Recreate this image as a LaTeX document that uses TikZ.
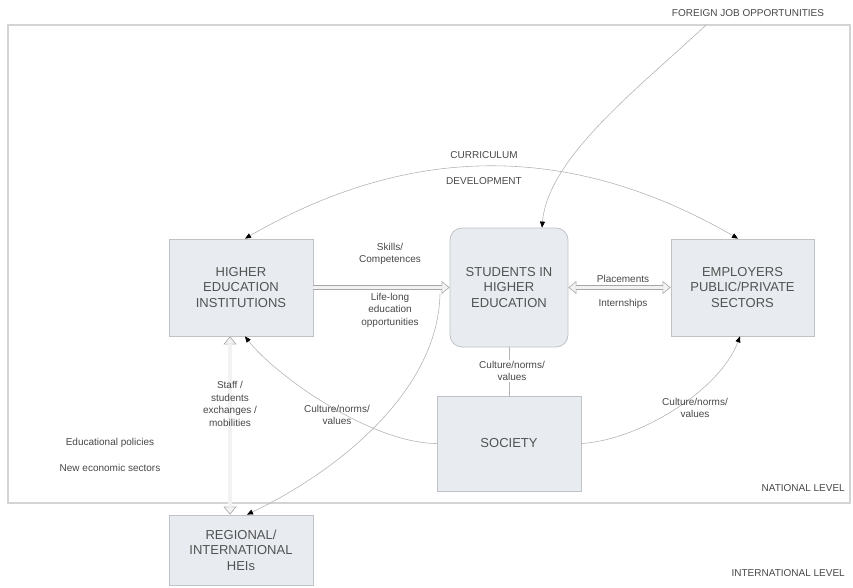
\documentclass[tikz,border=0pt]{standalone}
\usepackage{fontspec}
\setmainfont{Liberation Sans}
\usetikzlibrary{arrows.meta}
\definecolor{boxfill}{HTML}{E8ECF0}
\definecolor{boxline}{HTML}{BFC3C7}
\definecolor{curvegray}{HTML}{B4B4B4}
\definecolor{framegray}{HTML}{D4D4D4}
\tikzstyle{block} = [rectangle, draw=boxline, fill=boxfill, text=black!68,
                 font=\fontsize{13}{15.5}\selectfont, align=center,
                 inner sep=0pt, line width=0.8pt]
\tikzstyle{lbl} = [text=black!72, font=\fontsize{10}{12.5}\selectfont,
                 align=center, inner sep=1pt]
\tikzstyle{branch} = [draw=curvegray, line width=0.6pt]
\tikzstyle{flowtip} = [draw=black!35, line width=0.6pt]
\tikzstyle{flow} = [draw=black!35, double=black!5, double distance=3.5pt,
                 line width=0.6pt]

\begin{document}
\begin{tikzpicture}[x=1pt, y=1pt,
    >={Triangle[length=6pt, width=5pt, color=black]},
    hollow/.tip={Triangle[length=8pt, width=13pt, fill=black!5]}]
\useasboundingbox (0,0) rectangle (853,587);

% national level frame
\draw [framegray, line width=1.2pt] (8,84) rectangle (850,562);

\node [block, minimum width=144pt, minimum height=97pt] at (241,299.5) (hei) {HIGHER\\EDUCATION\\INSTITUTIONS};
\node [block, rounded corners=12pt, minimum width=118pt, minimum height=119pt] at (509,299.5) (stud) {STUDENTS IN\\HIGHER\\EDUCATION};
\node [block, minimum width=143pt, minimum height=97pt] at (742.5,299.5) (emp) {EMPLOYERS\\PUBLIC/PRIVATE\\SECTORS};
\node [block, minimum width=144pt, minimum height=95pt] at (509,143.5) (soc) {SOCIETY};
\node [block, minimum width=144pt, minimum height=70pt] at (241,37) (reg) {REGIONAL/\\INTERNATIONAL\\HEIs};

\coordinate (fjo) at (706,562);
\coordinate (lle) at (440,293);

\path [branch, <->] ([xshift=4pt]hei.north) to [bend left=30] ([xshift=-4.5pt]emp.north);
\path [branch, ->] (fjo) .. controls (640,500) and (548,430) .. ([xshift=33pt]stud.north);
\path [branch, ->] (soc.west) .. controls (370,144) and (275,212) .. ([xshift=4pt]hei.south);
\path [branch, ->] (soc.east) .. controls (640,147) and (720,197) .. ([xshift=-2.5pt]emp.south);
\path [branch, ->] (lle) .. controls (438,197) and (340,117) .. ([xshift=6pt]reg.north);
\path [branch] (stud.south) -- (soc.north);

% wide arrows: tips first, shaft on top
\path [flowtip, -hollow] (hei.east) -- (stud.west);
\path [flowtip, hollow-hollow] (stud.east) -- (emp.west);
\path [flowtip, hollow-hollow] ([xshift=-11pt]hei.south) -- ([xshift=-11pt]reg.north);
\path [flow, shorten >=7.5pt] (hei.east) -- (stud.west);
\path [flow, shorten <=7.5pt, shorten >=7.5pt] (stud.east) -- (emp.west);
\path [flow, shorten <=7.5pt, shorten >=7.5pt] ([xshift=-11pt]hei.south) -- ([xshift=-11pt]reg.north);

\node [lbl] at (748,574) (foreign) {FOREIGN JOB OPPORTUNITIES};
\node [lbl, anchor=east] at (846,99) (natl) {NATIONAL LEVEL};
\node [lbl, anchor=east] at (846,14) (intl) {INTERNATIONAL LEVEL};
\node [lbl] at (110,144) (policies) {Educational policies};
\node [lbl] at (110,119) (sectors) {New economic sectors};
\node [lbl] at (484,432) (curr) {CURRICULUM};
\node [lbl] at (484,406) (dev) {DEVELOPMENT};
\node [lbl] at (390,333) (skills) {Skills/\\Competences};
\node [lbl] at (390,277) (lifelong) {Life-long\\education\\opportunities};
\node [lbl] at (623,308) (place) {Placements};
\node [lbl] at (623,283) (intern) {Internships};
\node [lbl] at (230,183) (staff) {Staff /\\students\\exchanges /\\mobilities};
\node [lbl] at (337,172) (cultl) {Culture/norms/\\values};
\node [lbl, fill=white] at (512,216) (cultm) {Culture/norms/\\values};
\node [lbl] at (695,179) (cultr) {Culture/norms/\\values};

\end{tikzpicture}
\end{document}
